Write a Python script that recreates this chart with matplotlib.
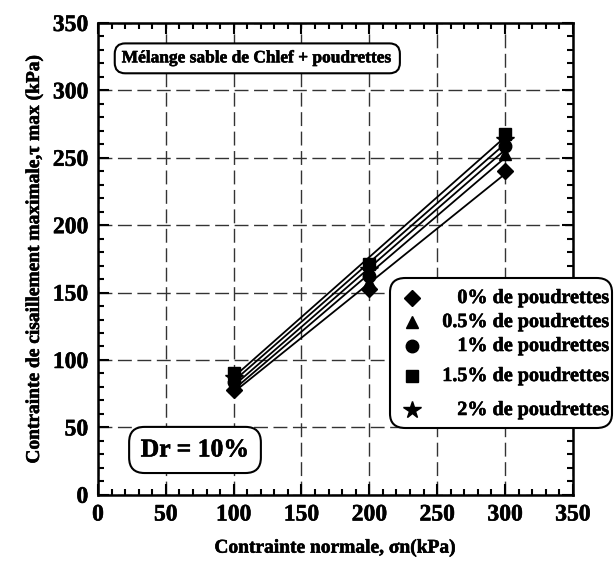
import matplotlib
matplotlib.use("Agg")
import matplotlib.pyplot as plt
import matplotlib.patheffects as pe
import numpy as np
from matplotlib.patches import FancyBboxPatch
from matplotlib.ticker import MultipleLocator

plt.rcParams['font.family'] = ['Liberation Serif', 'DejaVu Serif']
plt.rcParams['font.weight'] = 'bold'

# data
sigma_n = [100, 200, 300]
labels = ['0% de poudrettes', '0.5% de poudrettes', '1% de poudrettes',
          '1.5% de poudrettes', '2% de poudrettes']
markers = ['D', '^', 'o', 's', '*']
tau_0 = [78, 153, 240]
tau_05 = [81, 158, 253]
tau_1 = [84, 162, 259]
tau_15 = [90, 171, 268]
tau_2 = [87, 167, 263]
series = [tau_0, tau_05, tau_1, tau_15, tau_2]
msizes = [8, 9, 9, 8.5, 13]

# thicken glyphs a little so the text reads as heavy bold
heavy = [pe.withStroke(linewidth=0.4, foreground='black')]

fig = plt.figure(figsize=(6.16, 5.74), dpi=100)
ax = fig.add_axes([0.159, 0.138, 0.771, 0.822])

x = np.array(sigma_n)
for y, m, ms in zip(series, markers, msizes):
    # linear trend line for each series
    a, b = np.polyfit(x, y, 1)
    ax.plot(x, a * x + b, color='black', lw=1.3, zorder=3)
    ax.plot(x, y, linestyle='none', marker=m, ms=ms, color='black', zorder=4)

ax.set_xlim(0, 350)
ax.set_ylim(0, 350)
ax.xaxis.set_major_locator(MultipleLocator(50))
ax.yaxis.set_major_locator(MultipleLocator(50))
ax.xaxis.set_minor_locator(MultipleLocator(10))
ax.yaxis.set_minor_locator(MultipleLocator(10))
ax.tick_params(which='both', direction='in', top=True, right=True, width=1.5)
ax.tick_params(which='major', length=8, labelsize=17, pad=7)
ax.tick_params(which='minor', length=4)
for lab in ax.get_xticklabels() + ax.get_yticklabels():
    lab.set_fontweight('bold')
    lab.set_path_effects(heavy)
for sp in ax.spines.values():
    sp.set_linewidth(1.8)

ax.grid(True, which='major', color='#333333', lw=1.0, linestyle=(0, (10, 4)))
ax.set_axisbelow(True)

ax.set_xlabel('Contrainte normale, σn(kPa)', fontsize=14, fontweight='bold', labelpad=10,
              path_effects=heavy)
ax.set_ylabel('Contrainte de cisaillement maximale,τ max (kPa)', fontsize=14,
              fontweight='bold', labelpad=7, path_effects=heavy)

ax.text(0.05, 0.925, 'Mélange sable de Chlef + poudrettes', transform=ax.transAxes,
        fontsize=12.5, fontweight='bold', va='center', ha='left', path_effects=heavy,
        bbox=dict(boxstyle='round,pad=0.4,rounding_size=0.6', fc='white', ec='black', lw=1.5))
ax.text(0.09, 0.095, 'Dr = 10%', transform=ax.transAxes,
        fontsize=18.5, fontweight='bold', va='center', ha='left', path_effects=heavy,
        bbox=dict(boxstyle='round,pad=0.45,rounding_size=0.6', fc='white', ec='black', lw=1.5))

# legend drawn in figure pixels
W, H = 616, 574
box = FancyBboxPatch((390 / W, 1 - 428 / H), 222 / W, 150 / H,
                     boxstyle='round,pad=0,rounding_size=0.025', transform=fig.transFigure,
                     fc='white', ec='black', lw=1.5, zorder=10)
fig.add_artist(box)
rows = [298, 322, 346, 376, 410]
for lab, m, ms, ry in zip(labels, markers, msizes, rows):
    fig.add_artist(plt.Line2D([412 / W], [1 - ry / H], marker=m, ms=ms, color='black',
                              linestyle='none', transform=fig.transFigure, zorder=11))
    fig.text(609 / W, 1 - ry / H, lab, fontsize=14.5, fontweight='bold',
             ha='right', va='center', zorder=11, path_effects=heavy)

fig.savefig('out.png', dpi=100)
